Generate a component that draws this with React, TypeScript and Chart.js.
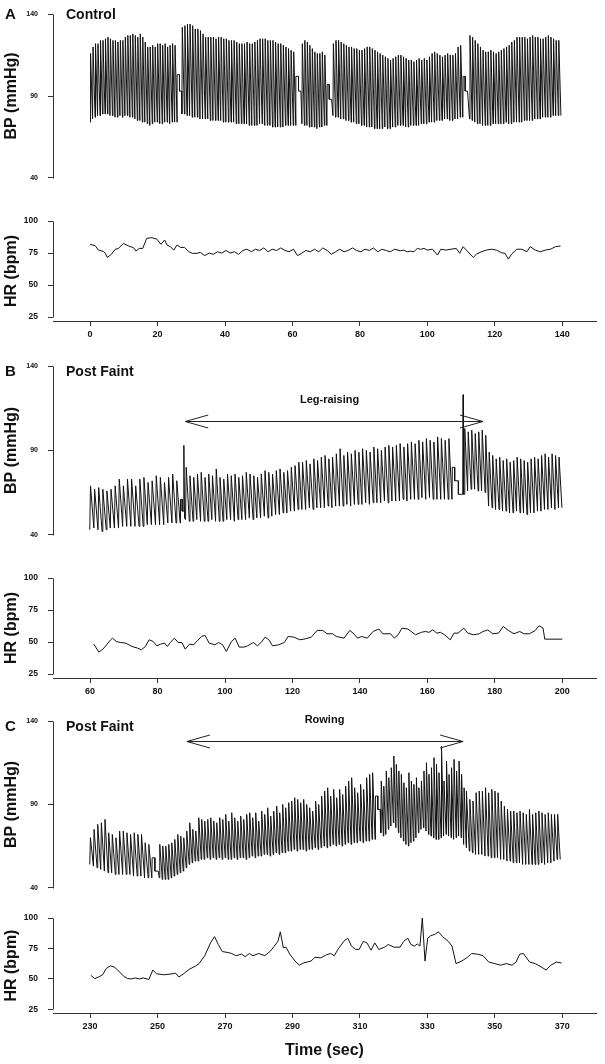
import React, { useEffect, useRef } from "react";
import { Chart, registerables } from "chart.js";
Chart.register(...registerables);

const FONT = '"Liberation Sans", Arial, Helvetica, sans-serif';
const INK = "#111111";
const AXIS = "#333333";

// ---------- axis ticks ----------
const BP_TICKS = [40, 90, 140];
const HR_TICKS = [25, 50, 75, 100];
const X_TICKS_A = [0, 20, 40, 60, 80, 100, 120, 140];
const X_TICKS_B = [60, 80, 100, 120, 140, 160, 180, 200];
const X_TICKS_C = [230, 250, 270, 290, 310, 330, 350, 370];

// ---------- Panel A : BP, beat-by-beat systolic / diastolic ----------
const bpA1_sys = [116,120,122,122,124,124,125,126,125,124,124,123,124,124,126,127,127,128,127,126,128,126,123,120,120,121,120,122,122,121,122,120,121,122,121];
const bpA1_dia = [74,76,77,78,78,79,79,79,78,78,77,77,78,77,78,78,77,77,76,75,75,74,74,73,72,73,74,74,73,73,74,74,73,74,74];
const bpA_step1 = [[25.8,103],[26.5,103],[26.5,93],[27.1,93]];
const bpA2_sys = [132,133,134,134,133,131,131,130,128,126,126,126,126,125,126,126,125,125,124,124,124,123,122,122,122,123,122,122,123,124,125,125,125,124,124,124,123,122,122,121,120,119,118,117];
const bpA2_dia = [79,79,78,78,77,77,77,76,76,76,76,75,75,75,75,75,74,74,74,74,74,73,73,73,73,73,72,72,72,72,73,73,72,72,72,71,71,71,71,71,72,72,72,72];
const bpA_step2 = [[61.0,102],[61.8,102],[61.8,93],[62.5,93]];
const bpA3_sys = [122,124,123,121,119,117,116,116,117,115];
const bpA3_dia = [73,72,72,71,71,71,70,71,71,72];
const bpA_step3 = [[70.3,97],[70.9,97],[70.9,88],[71.6,88]];
const bpA4_sys = [122,124,124,123,122,121,120,120,119,119,118,118,119,120,120,119,118,117,116,115,114,113,112,113,114,115,115,114,113,112,112,111,112,113,112,113,112,114,116,117,116,115,114,115,116,115,115,116,120,121];
const bpA4_dia = [78,77,77,76,76,75,75,74,74,73,73,72,72,71,71,71,70,70,70,70,71,70,70,71,71,72,72,72,71,71,72,72,72,72,73,73,73,74,74,74,75,75,75,76,76,75,75,76,76,77];
const bpA_step4 = [[110.6,102],[111.2,102],[111.2,93],[111.9,93]];
const bpA5_sys = [127,126,124,122,120,118,117,117,118,117,116,117,118,119,120,121,123,124,126,126,126,126,125,126,127,126,126,125,125,126,127,126,125,124,124];
const bpA5_dia = [76,75,74,73,73,72,72,72,72,73,73,73,73,73,74,73,73,74,74,74,74,75,75,75,75,76,76,76,77,77,77,77,78,78,78];

// ---------- Panel B : BP ----------
const bpB1_sys = [69,67,68,67,66,67,69,73,69,73,73,69,73,74,71,72,75,74,71,74,76,72];
const bpB1_dia = [43,44,43,42,43,44,44,44,45,45,45,45,45,45,46,46,46,46,46,47,47,47];
const bpB_step1 = [[86.8,61],[87.3,61],[87.3,54],[87.7,54],[87.8,93],[88.0,50]];
const bpB2_sys = [80,75,74,76,77,74,76,75,79,74,73,76,75,76,74,75,77,76,75,74,76,78,77,76,78,79,77,78,80,81,83,83,84,82,85,84,86,87,85,86,88,91,87,89,88,90,89,91,90,89,92,91,90,92,93,92,93,94,92,94,95,94,96,95,97,96,95,98,97,96,97];
const bpB2_dia = [49,48,48,49,48,48,48,49,48,48,48,49,49,48,49,49,49,50,49,50,50,51,50,51,52,52,53,53,54,54,55,55,55,56,55,56,56,56,57,56,57,57,57,58,57,58,58,58,59,58,59,59,59,60,59,60,60,60,61,60,61,61,61,62,61,62,61,61,61,61,61];
const bpB_step2 = [[167.4,80],[168.1,80],[168.1,72],[169.2,72],[169.2,64],[170.5,64],[170.6,123],[170.7,64]];
const bpB3_sys = [103,101,102,100,101,102,99,89,87,85,86,84,85,83,84,86,85,84,83,85,86,85,87,88,86,88,87,86];
const bpB3_dia = [64,66,67,67,66,66,65,57,56,55,55,54,54,53,53,54,53,53,52,53,53,54,54,55,55,56,55,56];

// ---------- Panel C : BP ----------
const bpC1_sys = [70,75,78,79,81,73,72,70,74,74,73,72,73,72,72,67,66];
const bpC1_dia = [54,53,52,51,50,49,49,48,48,48,48,48,47,47,47,46,46];
const bpC_step1 = [[248.4,58],[249.2,58],[249.2,50],[250.2,50]];
const bpC2_sys = [66,65,65,66,67,69,72,71,70,74,79,75,74,82,81,80,81,82,80,79,82,81,84,80,85,82,80,83,81,84,85,82,85,80,86,84,88,83,86,89,85,90,88,91,92,94,93,91,93,90,88,86,92,90,95,98,100,95,99,94,99,96,101,104,106,100,97,102,99,106,108,109];
const bpC2_dia = [46,45,45,45,46,47,48,49,50,52,54,55,56,56,57,57,58,57,58,57,58,57,58,57,57,58,57,58,58,57,58,59,58,59,59,60,60,59,60,61,60,61,61,62,62,63,62,63,63,62,63,63,64,63,64,65,64,65,66,65,66,65,66,67,66,67,67,68,67,68,68,69];
const bpC_step2 = [[314.6,95],[315.3,95],[315.3,87],[316.0,87]];
const bpC3_sys = [104,101,110,106,112,119,114,110,108,103,100,109,104,102,106,100,104,110,115,108,112,118,114,109,125,104,116,108,112,117,110,116,108,100];
const bpC3_dia = [73,71,72,75,77,79,76,73,70,68,66,65,67,68,70,73,75,76,74,72,71,70,69,69,70,71,72,71,70,69,70,71,70,66];
const bpC4_sys = [98,93,92,97,98,98,100,97,99,98,97,92,89,87,86,86,85,86,85,84,87,84,85,86,85,84,85,84,84,84];
const bpC4_dia = [64,62,61,60,60,60,59,59,58,58,58,57,57,56,56,55,55,55,54,54,54,54,54,54,55,54,55,55,56,57];

// ---------- Heart rate ----------
const hrA_t = [0,1.5,2.5,4,4.5,5.1,6.3,7.4,8.4,9.9,11.4,12.9,13.6,14.6,15.6,16.8,18.3,19.8,21,22.1,22.8,23.8,24.8,25.8,26.8,28,29.3,30.3,31.7,32.7,34,35.3,36.5,37.8,39,40.3,41.5,42.8,44,45.3,46.5,47.8,49,50.3,51.5,52.8,54,55.3,56.5,57.8,59,60.3,61.5,62.8,64,65.3,66.5,67.8,69,70.3,71.5,72.8,74,75.3,76.5,77.8,79,80.3,81.5,82.8,84,85.3,86.5,87.8,89,90.3,92,93,94,95,96,97,98,99,100,101.5,103,104,105.5,107,108.6,109.6,110.6,112,113.6,114.6,116,117.5,119,120.5,122,123,124,125,126.5,128,129.5,130.5,132,133.5,135,136.5,138,139.5];
const hrA_v = [81.8,80.7,77.3,76.2,74.8,71.6,74,77.9,78.6,82.5,80.5,79.2,76.6,78.6,78.6,86.5,87,85.8,81.8,85.2,81.3,80,77.3,81.3,79.4,79.4,76,74.8,74.8,75.5,73,75,74,76,75,77,75,76,74,77,78,76,78,77,79,76,78,77,79,77,76,78,73,75,77,76,78,76,79,77,74,76,78,76,77,79,77,76,78,77,79,76,78,77,76,78,76.8,77.3,76,76.5,76,78.6,77.9,78.6,77.3,78,73.4,78,77.3,78,78.6,74.8,80,76,71.6,74.2,76,77.3,78,77.3,75.2,74.8,70.3,74.2,78,78,76,80,77.3,76,77.3,78,80,80.5];
const hrB_t = [61.1,62.6,63.8,64.9,66.1,66.6,67.8,68.9,70.6,72.4,74.1,75.2,76.4,77.5,78.7,79.8,80.9,82.1,82.9,83.8,85,86.1,87.2,88.2,89.5,90.7,91.8,93,94.1,95.3,97,98.1,99.3,100.4,101.9,103,104.2,105.6,106.7,108.4,109.6,110.7,111.9,113,114.1,115.9,117.6,118.7,120.4,122.2,123.9,125.6,127.3,129,130.2,131.9,133,135.3,137,138.2,139.3,140.5,142.2,143.9,145.6,146.8,149.1,150.2,151.3,152.5,154.2,156.5,158.2,159.4,160.5,161.6,162.8,163.9,165.1,166.8,167.9,169.1,170.8,172,173.7,175.4,176.5,177.9,179.4,181.1,182.5,184,185.7,187.4,188.6,190.3,192,193.1,194.3,194.8,200];
const hrB_v = [48.4,42.2,44.5,47.9,51.8,53.1,50.5,49.7,49.2,46.6,45.3,44,46.6,51.8,50.5,47.1,48.4,49.2,46.6,49.7,53.1,49.7,49.7,44.5,48.4,47.9,51,54.4,55.2,49.2,47.9,49.7,47.9,42.7,50.5,53.1,46.1,46.1,47.1,49.7,47.1,49.7,53.9,51.8,47.1,47.9,49.7,54.4,53.9,51.8,52.6,53.9,59.1,59.1,56.5,56.5,54.4,53.1,59.1,56.5,53.1,54.4,53.1,58.3,60.2,56.5,56.5,53.1,55.7,60.9,60.2,55.7,57.6,58.3,57.6,59.6,57,57.6,55.7,51.8,57,57,60.9,57,55.7,56.5,58.3,59.5,56.5,57,62.2,59.1,56.5,58.3,56.5,56.5,59.1,62.8,60.9,52.3,52.3];
const hrC_t = [230.2,231.4,232.5,233.7,234.8,236,237.1,238.2,240,241.1,242.3,243.4,244.6,245.7,246.9,247.4,248.6,249.7,252,254.3,255.4,256.3,257.7,259.4,261.2,262.3,264,265.7,266.9,268,269.2,270.9,272,273.2,274.9,276,277.2,278.3,280,281.8,283.5,284.6,285.7,286.4,287.3,288.1,289.2,291,292.1,293.2,294.4,295.5,296.7,298.4,300.1,301.3,302.4,303.5,305.2,306.4,307.5,308.7,309.8,311,312.1,313.3,314.4,315.6,317.3,318.4,320.1,321.9,323,324.2,325.1,326.2,327,327.8,328.5,329.3,330.1,331,332.2,333.3,334.5,336.2,337.3,338.5,340.2,341.9,343.1,344.8,346.5,348.2,350,351.7,353.4,355.1,356.3,357.4,358.5,360.3,362,363.7,365.2,366.6,368.3,369.8];
const hrC_v = [52.9,50.3,51.6,53.4,58.6,60.7,59.9,57.3,52.1,50.3,50,50.8,50,50.8,50,49.5,57.3,54.2,53.4,54.2,54.7,51.6,54.2,57.9,60.5,62.6,69.1,79.6,84.8,78.3,72.5,71.7,70.9,69.1,70.4,68.3,70.9,69.1,70.9,69.1,73,76.9,80.9,88.7,75.6,76.1,70.4,63.9,61.3,63.1,63.9,64.7,67.8,67.3,69.9,70.9,69.1,74.3,80.9,83.5,77,74.3,74.3,80.9,79.6,73.6,79.6,74.3,76.1,78.3,76.1,76.1,80.9,83.5,78.3,77,78.8,77,100,64.7,83.5,85.6,86.6,88.7,84.8,80.9,77,62.6,64.7,67.8,70.9,70.4,69.1,63.9,62.6,61.3,62.6,61.3,63.9,70.4,70.9,63.9,62.6,60,57.3,61.3,63.9,63.1];

// ---------- annotations ----------
const ARROW_B = { from: 88.2, to: 176.5, level: 107.5, label: "Leg-raising", labelAt: 131 };
const ARROW_C = { from: 258.7, to: 340.6, level: 128, label: "Rowing", labelAt: 299.5 };

// ---------- layout (pixels) ----------
const W = 605;
const Y_AXIS_W = 53;
const RIGHT_PAD = 9;
const UP = 0.18; // share of a beat taken by the systolic upstroke

type Seg = { t0: number; t1: number; sys: number[]; dia: number[] };
type Pt = { x: number; y: number };

function wave(parts: Array<Seg | number[][]>): Pt[] {
  const out: Pt[] = [];
  for (const p of parts) {
    if (Array.isArray(p)) {
      for (const [x, y] of p) out.push({ x, y });
      continue;
    }
    const n = p.sys.length;
    const T = (p.t1 - p.t0) / n;
    for (let i = 0; i < n; i++) {
      const d = p.dia[Math.min(i, p.dia.length - 1)];
      out.push({ x: p.t0 + i * T, y: d });
      out.push({ x: p.t0 + (i + UP) * T, y: p.sys[i] });
    }
    out.push({ x: p.t1, y: p.dia[p.dia.length - 1] });
  }
  return out;
}

function zip(t: number[], v: number[]): Pt[] {
  const n = Math.min(t.length, v.length);
  const out: Pt[] = [];
  for (let i = 0; i < n; i++) out.push({ x: t[i], y: v[i] });
  return out;
}

const yAxisLine = {
  id: "yAxisLine",
  afterDraw(chart: any) {
    const s = chart.scales.y;
    const vals = s.ticks.map((t: any) => t.value);
    const top = s.getPixelForValue(Math.max(...vals));
    const bot = s.getPixelForValue(Math.min(...vals));
    const x = Math.round(chart.chartArea.left) + 0.5;
    const ctx = chart.ctx;
    ctx.save();
    ctx.strokeStyle = AXIS;
    ctx.lineWidth = 1;
    ctx.beginPath();
    ctx.moveTo(x, Math.round(top) + 0.5);
    ctx.lineTo(x, Math.round(bot) + 0.5);
    ctx.stroke();
    ctx.restore();
  },
};

function arrowPlugin(a: typeof ARROW_B) {
  return {
    id: "arrow",
    afterDatasetsDraw(chart: any) {
      const { ctx } = chart;
      const xs = chart.scales.x;
      const ys = chart.scales.y;
      const x0 = xs.getPixelForValue(a.from);
      const x1 = xs.getPixelForValue(a.to);
      const y = Math.round(ys.getPixelForValue(a.level)) + 0.5;
      const hl = 23, hw = 6.5;
      ctx.save();
      ctx.strokeStyle = "#222";
      ctx.lineWidth = 1;
      ctx.beginPath();
      ctx.moveTo(x0, y); ctx.lineTo(x1, y);
      ctx.moveTo(x0 + hl, y - hw); ctx.lineTo(x0, y); ctx.lineTo(x0 + hl, y + hw);
      ctx.moveTo(x1 - hl, y - hw); ctx.lineTo(x1, y); ctx.lineTo(x1 - hl, y + hw);
      ctx.stroke();
      ctx.fillStyle = INK;
      ctx.font = `bold 11px ${FONT}`;
      ctx.textAlign = "center";
      ctx.textBaseline = "middle";
      ctx.fillText(a.label, xs.getPixelForValue(a.labelAt), y - 22);
      ctx.restore();
    },
  };
}

function yScale(min: number, max: number, ticks: number[], title: string, tickSize: number) {
  return {
    type: "linear",
    min,
    max,
    afterBuildTicks: (s: any) => { s.ticks = ticks.map((v) => ({ value: v })); },
    afterFit: (s: any) => { s.width = Y_AXIS_W; },
    border: { display: false },
    grid: { drawOnChartArea: false, drawTicks: true, tickLength: 5, color: AXIS, lineWidth: 1 },
    ticks: { color: INK, font: { family: FONT, size: tickSize, weight: "bold" }, padding: 10, autoSkip: false },
    title: { display: true, text: title, color: INK, font: { family: FONT, size: 16, weight: "bold" }, padding: { top: 2, bottom: 0 } },
  };
}

function lineDataset(pts: Pt[]) {
  return { data: pts, borderColor: INK, borderWidth: 1, pointRadius: 0, tension: 0, fill: false };
}

function bpConfig(pts: Pt[], xr: number[], padTop: number, padBottom: number, arrow?: typeof ARROW_B) {
  return {
    type: "line",
    data: { datasets: [lineDataset(pts)] },
    options: {
      animation: false, responsive: false, maintainAspectRatio: false, parsing: false, devicePixelRatio: 1, events: [],
      layout: { padding: { left: 0, right: RIGHT_PAD, top: padTop, bottom: padBottom } },
      plugins: { legend: { display: false }, tooltip: { enabled: false }, title: { display: false } },
      scales: {
        x: { type: "linear", min: xr[0], max: xr[1], display: false },
        y: yScale(40, 140, BP_TICKS, "BP (mmHg)", 7),
      },
    },
    plugins: arrow ? [yAxisLine, arrowPlugin(arrow)] : [yAxisLine],
  };
}

function hrConfig(pts: Pt[], xr: number[], xticks: number[], padTop: number, xH: number, xTitle?: string) {
  return {
    type: "line",
    data: { datasets: [lineDataset(pts)] },
    options: {
      animation: false, responsive: false, maintainAspectRatio: false, parsing: false, devicePixelRatio: 1, events: [],
      layout: { padding: { left: 0, right: RIGHT_PAD, top: padTop, bottom: 0 } },
      plugins: { legend: { display: false }, tooltip: { enabled: false }, title: { display: false } },
      scales: {
        x: {
          type: "linear", min: xr[0], max: xr[1],
          afterBuildTicks: (s: any) => { s.ticks = xticks.map((v) => ({ value: v })); },
          afterFit: (s: any) => { s.height = xH; },
          border: { display: true, color: AXIS, width: 1 },
          grid: { drawOnChartArea: false, drawTicks: true, tickLength: 5, color: AXIS, lineWidth: 1 },
          ticks: { color: INK, font: { family: FONT, size: 9, weight: "bold" }, padding: 3, maxRotation: 0, autoSkip: false },
          title: xTitle
            ? { display: true, text: xTitle, color: INK, font: { family: FONT, size: 16, weight: "bold" }, padding: { top: 0, bottom: 4 } }
            : { display: false },
        },
        y: yScale(22, 100, HR_TICKS, "HR (bpm)", 8.5),
      },
    },
    plugins: [yAxisLine],
  };
}

function ChartBox({ top, height, make }: { top: number; height: number; make: () => any }) {
  const ref = useRef<HTMLCanvasElement>(null);
  useEffect(() => {
    const c = new Chart(ref.current as HTMLCanvasElement, make());
    return () => c.destroy();
  }, []);
  return (
    <canvas ref={ref} width={W} height={height}
      style={{ position: "absolute", left: 0, top, width: W, height, display: "block" }} />
  );
}

function Label({ text, left, top, size }: { text: string; left: number; top: number; size: number }) {
  return (
    <div style={{ position: "absolute", left, top, font: `bold ${size}px ${FONT}`, lineHeight: `${size}px`, color: INK, whiteSpace: "nowrap" }}>
      {text}
    </div>
  );
}

const XR_A = [-11, 150];
const XR_B = [49, 210];
const XR_C = [219, 380];

export default function App() {
  const bpA = wave([
    { t0: 0.0, t1: 25.8, sys: bpA1_sys, dia: bpA1_dia }, bpA_step1,
    { t0: 27.2, t1: 61.0, sys: bpA2_sys, dia: bpA2_dia }, bpA_step2,
    { t0: 62.8, t1: 70.2, sys: bpA3_sys, dia: bpA3_dia }, bpA_step3,
    { t0: 72.0, t1: 110.5, sys: bpA4_sys, dia: bpA4_dia }, bpA_step4,
    { t0: 112.5, t1: 139.6, sys: bpA5_sys, dia: bpA5_dia },
  ]);
  const bpB = wave([
    { t0: 59.9, t1: 86.7, sys: bpB1_sys, dia: bpB1_dia }, bpB_step1,
    { t0: 88.3, t1: 167.3, sys: bpB2_sys, dia: bpB2_dia }, bpB_step2,
    { t0: 170.9, t1: 199.9, sys: bpB3_sys, dia: bpB3_dia },
  ]);
  const bpC = wave([
    { t0: 229.9, t1: 248.3, sys: bpC1_sys, dia: bpC1_dia }, bpC_step1,
    { t0: 250.5, t1: 314.5, sys: bpC2_sys, dia: bpC2_dia }, bpC_step2,
    { t0: 316.2, t1: 341.5, sys: bpC3_sys, dia: bpC3_dia },
    { t0: 341.5, t1: 369.4, sys: bpC4_sys, dia: bpC4_dia },
  ]);
  const hrA = zip(hrA_t, hrA_v);
  const hrB = zip(hrB_t, hrB_v);
  const hrC = zip(hrC_t, hrC_v);

  return (
    <div style={{ position: "absolute", left: 0, top: 0, width: W, height: 1064, background: "#fff", overflow: "hidden" }}>
      <ChartBox top={0} height={192} make={() => bpConfig(bpA, XR_A, 9, 10)} />
      <ChartBox top={200} height={146} make={() => hrConfig(hrA, XR_A, X_TICKS_A, 21, 25)} />
      <ChartBox top={350} height={199} make={() => bpConfig(bpB, XR_B, 16, 10, ARROW_B)} />
      <ChartBox top={560} height={143} make={() => hrConfig(hrB, XR_B, X_TICKS_B, 18, 25)} />
      <ChartBox top={700} height={202} make={() => bpConfig(bpC, XR_C, 21, 8, ARROW_C)} />
      <ChartBox top={903} height={161} make={() => hrConfig(hrC, XR_C, X_TICKS_C, 10, 51, "Time (sec)")} />
      <Label text="A" left={5} top={5.6} size={15} />
      <Label text="Control" left={66} top={7.2} size={14} />
      <Label text="B" left={5} top={362.6} size={15} />
      <Label text="Post Faint" left={66} top={364.2} size={14} />
      <Label text="C" left={5} top={717.6} size={15} />
      <Label text="Post Faint" left={66} top={719.2} size={14} />
    </div>
  );
}
